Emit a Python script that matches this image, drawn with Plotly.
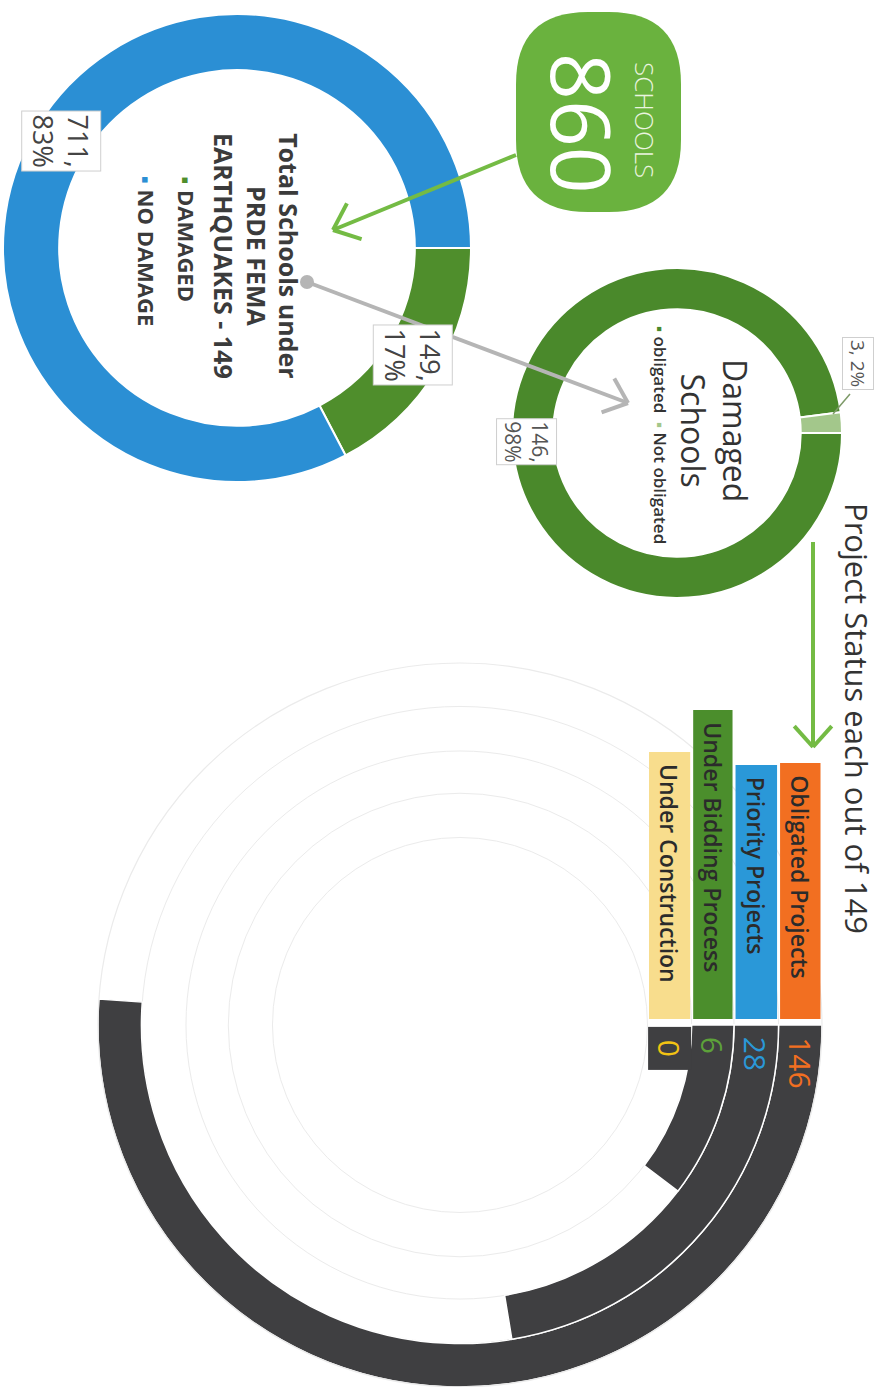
import math
import plotly.graph_objects as go

# ---------------- data (read from the infographic) ----------------
overview_labels = ["DAMAGED", "NO DAMAGE"]
overview_values = [149, 711]            # schools under PRDE FEMA earthquakes (total 860)
damaged_labels = ["obligated", "Not obligated"]
damaged_values = [146, 3]
status_labels = ["Obligated Projects", "Priority Projects",
                 "Under Bidding Process", "Under Construction"]
status_values = [146, 28, 6, 0]
status_out_of = 149

# ---------------- styling / layout constants ----------------
W, H = 887, 1387
FONT = "Open Sans"
DARK_TXT = "#3b3b3b"
overview_colors = ["#4f8e2c", "#2b8fd4"]
damaged_colors = ["#4a892b", "#a3c78b"]
status_colors = ["#f26f21", "#2a98d8", "#4b8e2c", "#f8dd8d"]
value_colors = ["#f26f21", "#2a98d8", "#5da13a", "#f2c313"]
RING_DARK = "#3f3f41"
PILL_GREEN = "#6ab23e"
ARROW_GREEN = "#74bb44"
ARROW_GREY = "#b5b5b5"

C1, R1, HOLE1 = (237, 248), 234, 0.76      # overview donut
C2, R2, HOLE2 = (677, 433), 165, 0.75      # damaged donut
C3, R3 = (460, 1025), 362                  # radial status chart
ring_edges = [1.0, 0.88, 0.757, 0.64, 0.518]
SWEEP = 186                                # angular sweep at full scale (sqrt scale)
box_tops = [763, 765, 710, 752]
BOX_BOTTOM = 1019


def pie_domain(c, r):
    return dict(x=[(c[0] - r) / W, (c[0] + r) / W],
                y=[max(0.0, 1 - (c[1] + r) / H), min(1.0, 1 - (c[1] - r) / H)])


def slice_points(values, c, r):
    tot = sum(values)
    cum = 0
    pts = []
    for v in values:
        a = math.radians((cum + v / 2) / tot * 360)
        pts.append((c[0] + r * math.cos(a), c[1] + r * math.sin(a)))
        cum += v
    return pts


def chevron(tail, tip, length, spread=40):
    dx, dy = tail[0] - tip[0], tail[1] - tip[1]
    n = math.hypot(dx, dy)
    ux, uy = dx / n, dy / n
    arms = []
    for s in (spread, -spread):
        a = math.radians(s)
        rx = ux * math.cos(a) - uy * math.sin(a)
        ry = ux * math.sin(a) + uy * math.cos(a)
        arms.append((tip[0] + length * rx, tip[1] + length * ry))
    return arms


fig = go.Figure()

# invisible cartesian trace (pixel-like canvas for shapes / annotations)
fig.add_trace(go.Scatter(x=[], y=[], hoverinfo="skip", showlegend=False))

# overview donut
fig.add_trace(go.Pie(
    values=overview_values, labels=overview_labels, hole=HOLE1,
    domain=pie_domain(C1, R1), sort=False, direction="clockwise", rotation=90,
    marker=dict(colors=overview_colors, line=dict(color="white", width=2)),
    textinfo="none", hoverinfo="skip", showlegend=False))

# damaged donut
fig.add_trace(go.Pie(
    values=damaged_values, labels=damaged_labels, hole=HOLE2,
    domain=pie_domain(C2, R2), sort=False, direction="clockwise", rotation=90,
    marker=dict(colors=damaged_colors, line=dict(color="white", width=2)),
    textinfo="none", hoverinfo="skip", showlegend=False))

# radial status bars (sqrt angular scale)
widths = [SWEEP * math.sqrt(v / status_out_of) for v in status_values]
fig.add_trace(go.Barpolar(
    r=[ring_edges[i] - ring_edges[i + 1] for i in range(len(status_values))],
    base=[ring_edges[i + 1] for i in range(len(status_values))],
    theta=[w / 2 for w in widths], width=widths,
    marker=dict(color=RING_DARK, line=dict(color="white", width=1.5)),
    hoverinfo="skip", showlegend=False))

shapes = []
ann = []


def text(x, y, s, size, color=DARK_TXT, weight=400, xanchor="center", yanchor="middle",
         align="center", **kw):
    ann.append(dict(x=x, y=y, xref="x", yref="y", text=s, showarrow=False, textangle=90,
                    font=dict(family=FONT, size=size, color=color, weight=weight),
                    xanchor=xanchor, yanchor=yanchor, align=align, **kw))


def line(p, q, color, width):
    shapes.append(dict(type="line", xref="x", yref="y", x0=p[0], y0=p[1], x1=q[0], y1=q[1],
                       line=dict(color=color, width=width), layer="above"))


# ---- pill "860 SCHOOLS"
x0, y0, x1, y1, r = 516, 12, 681, 212, 72
pill = (f"M {x0 + r},{y0} L {x1 - r},{y0} Q {x1},{y0} {x1},{y0 + r} L {x1},{y1 - r} "
        f"Q {x1},{y1} {x1 - r},{y1} L {x0 + r},{y1} Q {x0},{y1} {x0},{y1 - r} "
        f"L {x0},{y0 + r} Q {x0},{y0} {x0 + r},{y0} Z")
shapes.append(dict(type="path", xref="x", yref="y", path=pill, fillcolor=PILL_GREEN,
                   line=dict(width=0), layer="above"))
text(645, 120, "SCHOOLS", 26, color="#e9f4df", weight=300)
text(583, 123, str(sum(overview_values)), 82, color="white", weight=400)

# green arrow pill -> overview donut
tail, tip = (516, 155), (333, 230)
line(tail, tip, ARROW_GREEN, 4)
for a in chevron(tail, tip, 30):
    line(tip, a, ARROW_GREEN, 4)

# grey arrow overview -> damaged donut
gtail, gtip = (307, 282), (628, 403)
line(gtail, gtip, ARROW_GREY, 4)
for a in chevron(gtail, gtip, 28):
    line(gtip, a, ARROW_GREY, 4)
shapes.append(dict(type="circle", xref="x", yref="y", x0=gtail[0] - 7, y0=gtail[1] - 7,
                   x1=gtail[0] + 7, y1=gtail[1] + 7, fillcolor=ARROW_GREY,
                   line=dict(width=0), layer="above"))

# ---- overview donut texts
tot1 = sum(overview_values)
for (px, py), v in zip(slice_points(overview_values, C1, R1 * (1 + HOLE1) / 2), overview_values):
    text(px, py, f"{v},<br>{round(100 * v / tot1)}%", 27, color="#444",
         bgcolor="white", bordercolor="#cfcfcf", borderwidth=1, borderpad=3)
text(257, 256, f"Total Schools under<br>PRDE FEMA<br>EARTHQUAKES - {overview_values[0]}",
     25, weight=700)
for xl, lab, col in zip([187, 147], overview_labels, overview_colors):
    text(xl, 174, f"<span style='color:{col}'>▪</span> {lab}", 22, weight=700,
         yanchor="top", align="left")

# ---- damaged donut texts
tot2 = sum(damaged_values)
pts2 = slice_points(damaged_values, C2, R2 * (1 + HOLE2) / 2)
text(pts2[0][0] - 6, pts2[0][1], f"{damaged_values[0]},<br>{round(100 * damaged_values[0] / tot2)}%",
     21, color="#555", bgcolor="white", bordercolor="#cfcfcf", borderwidth=1, borderpad=2)
line((833, 414), (850, 394), "#7d9a68", 1.5)
text(858, 363, f"{damaged_values[1]}, {round(100 * damaged_values[1] / tot2)}%",
     19, color="#555", bgcolor="white", bordercolor="#cfcfcf", borderwidth=1, borderpad=2)
text(715, 430, "Damaged<br>Schools", 32, color="#333")
legend2 = "  ".join(f"<span style='color:{c}'>▪</span> {l}"
                    for l, c in zip(damaged_labels, damaged_colors))
text(661, 435, legend2, 17, weight=600, color="#333")

# ---- project status section
text(857, 718, f"Project Status each out of {status_out_of}", 31, color="#333")
vtail, vtip = (813, 542), (813, 747)
line(vtail, vtip, ARROW_GREEN, 4)
for a in chevron(vtail, vtip, 28, spread=42):
    line(vtip, a, ARROW_GREEN, 4)

for i, (lab, val) in enumerate(zip(status_labels, status_values)):
    xin = C3[0] + ring_edges[i + 1] * R3
    xout = C3[0] + ring_edges[i] * R3
    xc = (xin + xout) / 2
    shapes.append(dict(type="rect", xref="x", yref="y", x0=xin + 1.5, x1=xout - 1.5,
                       y0=box_tops[i], y1=BOX_BOTTOM, fillcolor=status_colors[i],
                       line=dict(width=0), layer="above"))
    text(xc, box_tops[i] + 10, lab, 23, color="#2b2b2b", weight=600, yanchor="top")
    extra = {}
    if val == 0:
        extra = dict(bgcolor=RING_DARK, width=40, height=(xout - xin) - 4)
    text(xc, C3[1] + (1 if val == 0 else 10), str(val), 30, color=value_colors[i],
         weight=400, yanchor="top", **extra)

fig.update_layout(
    width=W, height=H, margin=dict(l=0, r=0, t=0, b=0),
    paper_bgcolor="white", plot_bgcolor="rgba(0,0,0,0)",
    xaxis=dict(range=[0, W], visible=False, fixedrange=True, domain=[0, 1]),
    yaxis=dict(range=[H, 0], visible=False, fixedrange=True, domain=[0, 1]),
    polar=dict(
        domain=pie_domain(C3, R3), bgcolor="rgba(0,0,0,0)",
        radialaxis=dict(range=[0, 1], tickvals=ring_edges, showgrid=True,
                        gridcolor="#ebebeb", gridwidth=1.2, showticklabels=False,
                        ticks="", showline=False),
        angularaxis=dict(rotation=0, direction="clockwise", showgrid=False,
                         showticklabels=False, ticks="", showline=True,
                         linecolor="#ebebeb", linewidth=1.2)),
    shapes=shapes, annotations=ann, showlegend=False, font=dict(family=FONT),
)

# remove the browser's default 8px body margin so the figure sits at (0, 0)
fig.write_html("out.html", config={"displayModeBar": False},
               post_script="document.body.style.margin='0';")
